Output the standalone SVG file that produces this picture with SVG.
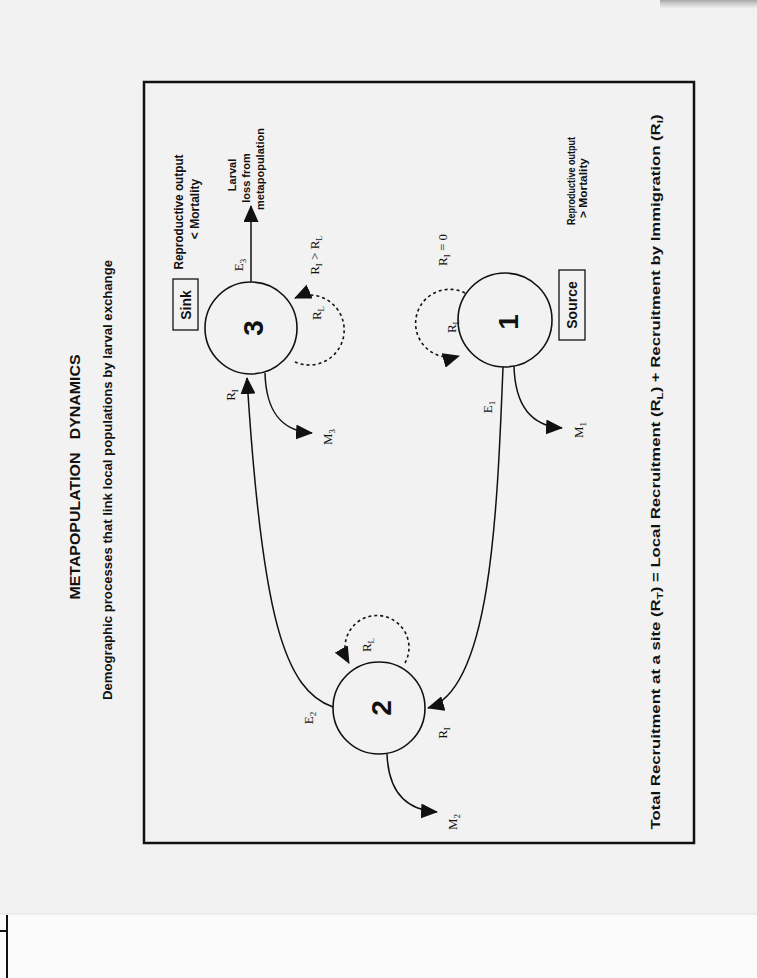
<svg xmlns="http://www.w3.org/2000/svg" width="757" height="978" viewBox="0 0 757 978">
<style>
.sans{font-family:"Liberation Sans",Arial,sans-serif;font-weight:bold;fill:#111}
.serif{font-family:"Liberation Serif","Times New Roman",serif;fill:#111;font-size:13px}
.node{fill:#f2f2f2;stroke:#111;stroke-width:1.6}
.box{fill:none;stroke:#111;stroke-width:1.3}
.conn{fill:none;stroke:#111;stroke-width:1.5}
.dash{fill:none;stroke:#111;stroke-width:1.6;stroke-dasharray:3 3}
.num{font-size:28px}
</style>
<defs>
<marker id="ah" viewBox="0 0 17 15" refX="16" refY="7.5" markerWidth="17" markerHeight="15" markerUnits="userSpaceOnUse" orient="auto">
<path d="M0,0 L17,7.5 L0,15 z" fill="#111"/>
</marker>
<linearGradient id="smudge" x1="0" y1="0" x2="0" y2="1">
<stop offset="0" stop-color="#888" stop-opacity="0.7"/>
<stop offset="1" stop-color="#aaa" stop-opacity="0"/>
</linearGradient>
</defs>
<rect x="0" y="0" width="757" height="978" fill="#f2f2f2"/>
<rect x="0" y="914" width="757" height="64" fill="#fbfbfb"/>
<line x1="0" y1="914" x2="757" y2="914" stroke="#e4e4e4" stroke-width="1"/>
<rect x="660" y="0" width="97" height="9" fill="url(#smudge)"/>
<line x1="7" y1="915" x2="7" y2="978" stroke="#111" stroke-width="2"/>
<line x1="0" y1="931" x2="7" y2="931" stroke="#111" stroke-width="2"/>

<rect x="144" y="82" width="550" height="761" fill="none" stroke="#111" stroke-width="2.5"/>

<g id="title">
<text class="sans" font-size="14" text-anchor="middle" dominant-baseline="central" transform="translate(75,477) rotate(-90)" style="white-space:pre" textLength="245" lengthAdjust="spacingAndGlyphs">METAPOPULATION   DYNAMICS</text>
<text class="sans" font-size="13" text-anchor="middle" dominant-baseline="central" transform="translate(107,480) rotate(-90)" textLength="440" lengthAdjust="spacingAndGlyphs">Demographic processes that link local populations by larval exchange</text>
<text class="sans" font-size="13" text-anchor="middle" dominant-baseline="central" transform="translate(655,472) rotate(-90)" textLength="715" lengthAdjust="spacingAndGlyphs">Total Recruitment at a site (R<tspan baseline-shift="sub" font-size="9">T</tspan>) = Local Recruitment (R<tspan baseline-shift="sub" font-size="9">L</tspan>) + Recruitment by Immigration (R<tspan baseline-shift="sub" font-size="9">I</tspan>)</text>
</g>

<g id="connectors">
<path class="conn" d="M251,282 L251,206" marker-end="url(#ah)"/>
<path class="conn" d="M333,707 C285,690 262,620 247,378" marker-end="url(#ah)"/>
<path class="conn" d="M503,367 C497,520 490,690 428,708" marker-end="url(#ah)"/>
<path class="conn" d="M265,373 C266,410 280,431 312,433" marker-end="url(#ah)"/>
<path class="conn" d="M514,366 C515,405 530,426 562,428" marker-end="url(#ah)"/>
<path class="conn" d="M387,753 C388,790 405,810 437,812" marker-end="url(#ah)"/>
<path class="dash" d="M295,362 A35,35 0 1 0 295,298" marker-end="url(#ah)"/>
<path class="dash" d="M405,663 A32,32 0 1 0 349,663" marker-end="url(#ah)"/>
<path class="dash" d="M465,293 A34,34 0 1 0 459,356" marker-end="url(#ah)"/>
</g>

<g id="node-3">
<circle class="node" cx="251" cy="328" r="46"/>
<text class="sans num" text-anchor="middle" dominant-baseline="central" transform="translate(253,328) rotate(-90)">3</text>
<rect class="box" x="173" y="279" width="25" height="51"/>
<text class="sans" font-size="14" text-anchor="middle" dominant-baseline="central" transform="translate(186,305) rotate(-90)">Sink</text>
<text class="sans" font-size="12" text-anchor="middle" transform="translate(183,212) rotate(-90)" textLength="115" lengthAdjust="spacingAndGlyphs">Reproductive output</text>
<text class="sans" font-size="12" text-anchor="middle" transform="translate(199,209) rotate(-90)">&lt; Mortality</text>
<text class="sans" font-size="11" text-anchor="middle" transform="translate(236,175) rotate(-90)">Larval</text>
<text class="sans" font-size="11" text-anchor="middle" transform="translate(250,178) rotate(-90)">loss from</text>
<text class="sans" font-size="11" text-anchor="middle" transform="translate(264,169) rotate(-90)">metapopulation</text>
</g>

<g id="node-2">
<circle class="node" cx="379" cy="708" r="46"/>
<text class="sans num" text-anchor="middle" dominant-baseline="central" transform="translate(381,708) rotate(-90)">2</text>
</g>

<g id="node-1">
<circle class="node" cx="505" cy="320" r="47"/>
<text class="sans num" text-anchor="middle" dominant-baseline="central" transform="translate(508,322) rotate(-90)">1</text>
<rect class="box" x="559" y="270" width="26" height="70"/>
<text class="sans" font-size="14" text-anchor="middle" dominant-baseline="central" transform="translate(572,305) rotate(-90)">Source</text>
<text class="sans" font-size="11" text-anchor="middle" transform="translate(575,181) rotate(-90)" textLength="88" lengthAdjust="spacingAndGlyphs">Reproductive output</text>
<text class="sans" font-size="11" text-anchor="middle" transform="translate(587,188) rotate(-90)" textLength="60" lengthAdjust="spacingAndGlyphs">&gt; Mortality</text>
</g>

<g id="labels">
<text class="serif" text-anchor="middle" dominant-baseline="central" transform="translate(238,265) rotate(-90)">E<tspan baseline-shift="sub" font-size="9">3</tspan></text>
<text class="serif" text-anchor="middle" dominant-baseline="central" transform="translate(314,255) rotate(-90)">R<tspan baseline-shift="sub" font-size="9">I</tspan> &gt; R<tspan baseline-shift="sub" font-size="9">L</tspan></text>
<text class="serif" text-anchor="middle" dominant-baseline="central" transform="translate(316,313) rotate(-90)">R<tspan baseline-shift="sub" font-size="9">L</tspan></text>
<text class="serif" text-anchor="middle" dominant-baseline="central" transform="translate(230,395) rotate(-90)">R<tspan baseline-shift="sub" font-size="9">I</tspan></text>
<text class="serif" text-anchor="middle" dominant-baseline="central" transform="translate(327,437) rotate(-90)">M<tspan baseline-shift="sub" font-size="9">3</tspan></text>
<text class="serif" text-anchor="middle" dominant-baseline="central" transform="translate(442,250) rotate(-90)">R<tspan baseline-shift="sub" font-size="9">I</tspan> = 0</text>
<text class="serif" text-anchor="middle" dominant-baseline="central" transform="translate(451,326) rotate(-90)">R<tspan baseline-shift="sub" font-size="9">L</tspan></text>
<text class="serif" text-anchor="middle" dominant-baseline="central" transform="translate(487,407) rotate(-90)">E<tspan baseline-shift="sub" font-size="9">1</tspan></text>
<text class="serif" text-anchor="middle" dominant-baseline="central" transform="translate(578,430) rotate(-90)">M<tspan baseline-shift="sub" font-size="9">1</tspan></text>
<text class="serif" text-anchor="middle" dominant-baseline="central" transform="translate(308,718) rotate(-90)">E<tspan baseline-shift="sub" font-size="9">2</tspan></text>
<text class="serif" text-anchor="middle" dominant-baseline="central" transform="translate(366,645) rotate(-90)">R<tspan baseline-shift="sub" font-size="9">L</tspan></text>
<text class="serif" text-anchor="middle" dominant-baseline="central" transform="translate(442,733) rotate(-90)">R<tspan baseline-shift="sub" font-size="9">I</tspan></text>
<text class="serif" text-anchor="middle" dominant-baseline="central" transform="translate(452,822) rotate(-90)">M<tspan baseline-shift="sub" font-size="9">2</tspan></text>
</g>
</svg>
